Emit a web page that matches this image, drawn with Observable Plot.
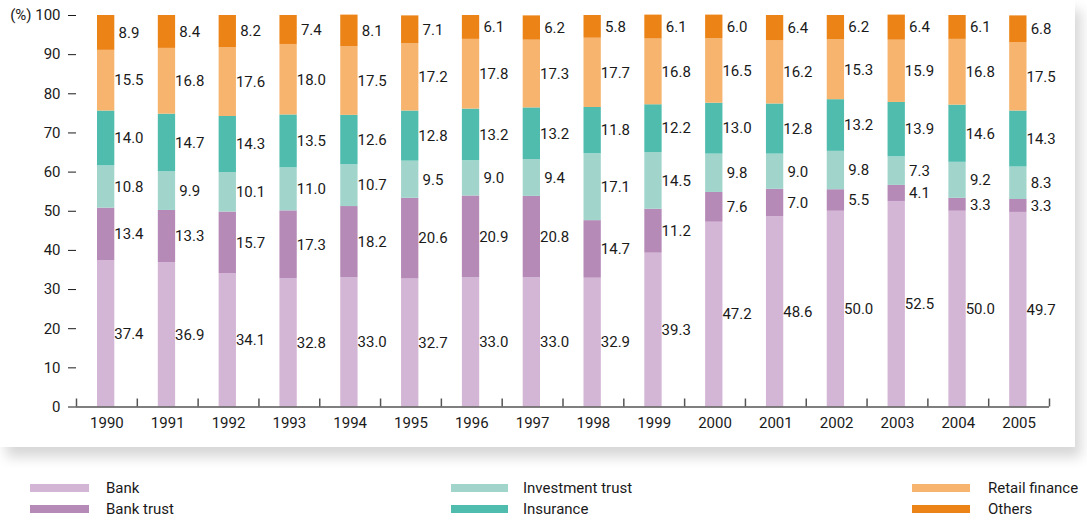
<!DOCTYPE html>
<html><head><meta charset="utf-8">
<script src="https://cdn.jsdelivr.net/npm/d3@7"></script>
<script src="https://cdn.jsdelivr.net/npm/@observablehq/plot@0.6"></script>
<style>
body{margin:0;background:#fff;font-family:Roboto,"Liberation Sans",sans-serif;}
#panel{position:absolute;left:0;top:0;width:1075px;height:447px;background:#fff;box-shadow:6px 10px 12px rgba(0,0,0,0.16);}
#chart{position:absolute;left:0;top:0;}
.sw{position:absolute;height:8px;}
.lt{position:absolute;font-size:15px;line-height:20px;color:#1a1a1a;white-space:nowrap;}
</style></head><body>
<div id="panel"></div>
<div id="chart"></div>
<div id="legend"></div>
<script>
const years = [1990,1991,1992,1993,1994,1995,1996,1997,1998,1999,2000,2001,2002,2003,2004,2005];
const series = ["Bank","Bank trust","Investment trust","Insurance","Retail finance","Others"];
const colors = ["#d3b5d5","#b58ab7","#a1d5cc","#4fbcae","#f6b46e","#ec8316"];
const bank      = [37.4,36.9,34.1,32.8,33.0,32.7,33.0,33.0,32.9,39.3,47.2,48.6,50.0,52.5,50.0,49.7];
const bankTrust = [13.4,13.3,15.7,17.3,18.2,20.6,20.9,20.8,14.7,11.2,7.6,7.0,5.5,4.1,3.3,3.3];
const invTrust  = [10.8,9.9,10.1,11.0,10.7,9.5,9.0,9.4,17.1,14.5,9.8,9.0,9.8,7.3,9.2,8.3];
const insurance = [14.0,14.7,14.3,13.5,12.6,12.8,13.2,13.2,11.8,12.2,13.0,12.8,13.2,13.9,14.6,14.3];
const retail    = [15.5,16.8,17.6,18.0,17.5,17.2,17.8,17.3,17.7,16.8,16.5,16.2,15.3,15.9,16.8,17.5];
const others    = [8.9,8.4,8.2,7.4,8.1,7.1,6.1,6.2,5.8,6.1,6.0,6.4,6.2,6.4,6.1,6.8];
const yTicks = [0,10,20,30,40,50,60,70,80,90,100];

const values = [bank, bankTrust, invTrust, insurance, retail, others];
const data = [];
series.forEach((s, i) => values[i].forEach((v, j) => data.push({year: years[j], series: s, value: v})));

const W = 1075, H = 447, mL = 76, mR = 26, mT = 15, mB = 40.5;
const bw = (W - mL - mR) / years.length;
const font = 'Roboto,"Liberation Sans",sans-serif';

const chart = Plot.plot({
  width: W, height: H, marginTop: mT, marginBottom: mB, marginLeft: mL, marginRight: mR,
  style: {fontFamily: font, fontSize: "15px", color: "#1a1a1a", background: "transparent"},
  x: {type: "band", domain: years, padding: 0, round: false, label: null, tickSize: 0, tickPadding: 10,
      tickFormat: d => String(d)},
  y: {domain: [0, 100], ticks: yTicks, label: null, tickSize: 8, tickPadding: 8,
      tickFormat: d => d === 100 ? "(%) 100" : String(d)},
  color: {domain: series, range: colors},
  marks: [
    Plot.barY(data, Plot.stackY({x: "year", y: "value", fill: "series", order: series, insetLeft: 21, insetRight: 22.5})),
    Plot.text(data, Plot.stackY({x: "year", y: "value", z: "series", order: series,
      text: d => d.value.toFixed(1), dx: 22, fill: "#1a1a1a", fontSize: 15})),
    Plot.ruleY([0], {stroke: "#555", strokeWidth: 1.5}),
    Plot.ruleX(years, {x: d => d, y1: 0, y2: 0, insetTop: -8, dx: bw / 2, stroke: "#555", strokeWidth: 1.5}),
    Plot.ruleX([years[0]], {x: d => d, y1: 0, y2: 0, insetTop: -8, dx: -bw / 2, stroke: "#555", strokeWidth: 1.5})
  ]
});
document.getElementById("chart").appendChild(chart);

// legend
const legendPos = [
  {sx: 30, sw: 59, tx: 106, y: 488},
  {sx: 30, sw: 59, tx: 106, y: 509},
  {sx: 451, sw: 57, tx: 523, y: 488},
  {sx: 451, sw: 57, tx: 523, y: 509},
  {sx: 912, sw: 58, tx: 988, y: 488},
  {sx: 912, sw: 58, tx: 988, y: 509}
];
const legend = document.getElementById("legend");
series.forEach((s, i) => {
  const p = legendPos[i];
  const sw = document.createElement("div");
  sw.className = "sw";
  sw.style.left = p.sx + "px"; sw.style.top = (p.y - 4) + "px"; sw.style.width = p.sw + "px";
  sw.style.background = colors[i];
  legend.appendChild(sw);
  const t = document.createElement("div");
  t.className = "lt";
  t.style.left = p.tx + "px"; t.style.top = (p.y - 10) + "px";
  t.textContent = s;
  legend.appendChild(t);
});
</script>
</body></html>
